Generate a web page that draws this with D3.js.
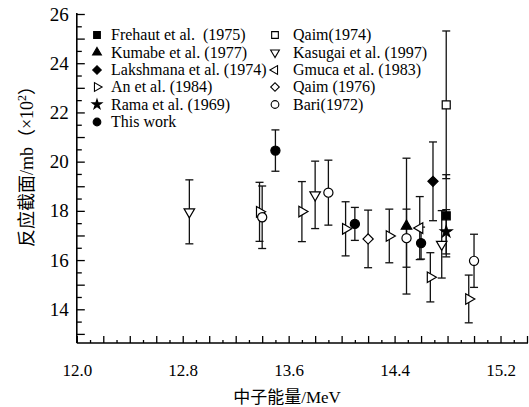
<!DOCTYPE html>
<html>
<head>
<meta charset="utf-8">
<script src="https://cdn.jsdelivr.net/npm/d3@7/dist/d3.min.js"></script>
<style>
  body { margin: 0; background: #fff; }
  text { font-family: "Liberation Serif", "Times New Roman", serif; fill: #000; }
  .cjk { font-family: "Liberation Serif", "Noto Sans CJK SC", serif; }
</style>
</head>
<body>
<svg id="sg"></svg>
<script>
// each point: [neutron energy MeV, cross section (x100 mb), error]
const frehaut = [[14.79, 17.8, 1.67]];
const kumabe = [[14.49, 17.38, 2.76]];
const lakshmana = [[14.69, 19.2, 1.6]];
const anEtAl = [[13.38, 17.96, 1.2], [13.7, 17.97, 1.22], [14.03, 17.27, 1.1], [14.36, 16.98, 1.09], [14.67, 15.3, 1.0], [14.96, 14.42, 0.97]];
const rama = [[14.79, 17.15, 0.9]];
const thisWork = [[13.5, 20.45, 0.84], [14.1, 17.47, 0.67], [14.6, 16.69, 0.65]];
const qaim1974 = [[14.79, 22.31, 3.0]];
const kasugai = [[12.85, 17.96, 1.3], [13.8, 18.65, 1.37], [14.756, 16.64, 1.37]];
const gmuca = [[14.59, 17.3, 1.28]];
const qaim1976 = [[14.2, 16.86, 1.17]];
const bari = [[13.4, 17.74, 1.27], [13.9, 18.74, 1.32], [14.49, 16.89, 1.18], [15.0, 15.97, 1.08]];

const xLabels = [12.0, 12.8, 13.6, 14.4, 15.2];
const yLabels = [14, 16, 18, 20, 22, 24, 26];

const series = [
  { name: "Frehaut et al.  (1975)", data: frehaut, shape: "square", fill: true, col: 0 },
  { name: "Kumabe et al. (1977)", data: kumabe, shape: "up", fill: true, col: 0 },
  { name: "Lakshmana et al. (1974)", data: lakshmana, shape: "diamond", fill: true, col: 0 },
  { name: "An et al. (1984)", data: anEtAl, shape: "right", fill: false, col: 0 },
  { name: "Rama et al. (1969)", data: rama, shape: "star", fill: true, col: 0 },
  { name: "This work", data: thisWork, shape: "circle", fill: true, col: 0 },
  { name: "Qaim(1974)", data: qaim1974, shape: "square", fill: false, col: 1 },
  { name: "Kasugai et al. (1997)", data: kasugai, shape: "down", fill: false, col: 1 },
  { name: "Gmuca et al. (1983)", data: gmuca, shape: "left", fill: false, col: 1 },
  { name: "Qaim (1976)", data: qaim1976, shape: "diamond", fill: false, col: 1 },
  { name: "Bari(1972)", data: bari, shape: "circle", fill: false, col: 1 }
];

let svgWidth = 529,
  svgHeight = 407;
let svg = d3.select("#sg").attr("width", svgWidth).attr("height", svgHeight);

let x = d3.scaleLinear().domain([12, 15.4]).range([76.8, 527]);
let y = d3.scaleLinear().domain([12.63, 26]).range([343, 14]);

function symbolPath(shape, legend) {
  let s = legend ? 0.7 : 1;
  if (shape === "square") return { d: d3.symbol(d3.symbolSquare, 64 * s)(), r: 0 };
  if (shape === "circle") return { d: d3.symbol(d3.symbolCircle, 66 * s)(), r: 0 };
  if (shape === "diamond") return { d: d3.symbol(d3.symbolSquare, 52 * s)(), r: 45 };
  if (shape === "star") return { d: d3.symbol(d3.symbolStar, 42 * s)(), r: 0 };
  let rot = { up: 0, right: 90, down: 180, left: 270 }[shape];
  return { d: d3.symbol(d3.symbolTriangle, 48 * s)(), r: rot };
}

// axes: left and bottom only, ticks inward
let xMinor = d3.range(12.1, 15.4, 0.2);
let xMajor = d3.range(12.0, 15.41, 0.2);
let yMinor = d3.range(13.5, 26, 1);
let yMajor = d3.range(13, 26.1, 1);

let gx = svg.append("g").attr("transform", "translate(0,343)");
gx.call(d3.axisBottom(x).tickValues(xMinor).tickSize(-3).tickFormat(""));
gx.append("g").call(
  d3.axisBottom(x)
    .tickValues(xMajor)
    .tickSize(-7)
    .tickPadding(21)
    .tickFormat(d => (xLabels.some(v => Math.abs(v - d) < 1e-6) ? d.toFixed(1) : ""))
);
gx.selectAll(".domain").remove();
gx.append("line").attr("x1", 76.8).attr("x2", 528).attr("stroke", "#000").attr("stroke-width", 1.6);

let gy = svg.append("g").attr("transform", "translate(76.8,0)");
gy.call(d3.axisLeft(y).tickValues(yMinor).tickSize(-5).tickFormat(""));
gy.append("g").call(
  d3.axisLeft(y)
    .tickValues(yMajor)
    .tickSize(-8)
    .tickPadding(8)
    .tickFormat(d => (yLabels.includes(d) ? d : ""))
);
gy.selectAll(".domain").remove();
gy.append("line").attr("y1", 13).attr("y2", 343).attr("stroke", "#000").attr("stroke-width", 1.6);

svg.selectAll(".tick line").attr("stroke", "#000").attr("stroke-width", 1.3);
gx.selectAll(".tick text").style("font-size", "17px").attr("font-family", "Liberation Serif");
gy.selectAll(".tick text").style("font-size", "19px").attr("font-family", "Liberation Serif");

// axis titles
svg.append("text")
  .attr("class", "cjk")
  .attr("x", 287)
  .attr("y", 403)
  .attr("text-anchor", "middle")
  .style("font-size", "17px")
  .text("中子能量/MeV");

let yt = svg.append("text")
  .attr("class", "cjk")
  .attr("transform", "translate(33,162) rotate(-90)")
  .attr("text-anchor", "middle")
  .style("font-size", "18px");
yt.append("tspan").text("反应截面/mb（×10");
yt.append("tspan").attr("dy", -7).style("font-size", "12px").text("2");
yt.append("tspan").attr("dy", 7).text("）");

// error bars
let pts = [];
series.forEach(s => s.data.forEach(p => pts.push({ s: s, e: p[0], v: p[1], err: p[2] })));

let bars = svg.append("g").attr("stroke", "#111").attr("stroke-width", 1.3);
pts.forEach(p => {
  let px = x(p.e), y0 = y(p.v + p.err), y1 = y(p.v - p.err);
  bars.append("line").attr("x1", px).attr("x2", px).attr("y1", y0).attr("y2", y1);
  bars.append("line").attr("x1", px - 4).attr("x2", px + 4).attr("y1", y0).attr("y2", y0);
  bars.append("line").attr("x1", px - 4).attr("x2", px + 4).attr("y1", y1).attr("y2", y1);
});

// markers
pts.forEach(p => {
  let sp = symbolPath(p.s.shape, false);
  svg.append("path")
    .attr("d", sp.d)
    .attr("transform", "translate(" + x(p.e) + "," + y(p.v) + ") rotate(" + sp.r + ")")
    .attr("fill", p.s.fill ? "#000" : "#fff")
    .attr("stroke", "#000")
    .attr("stroke-width", 1.2);
});

// legend
let rowY = [35, 52.5, 70, 87, 104.5, 122];
let colX = [97, 275];
let textX = [111, 293];
let counter = [0, 0];
series.forEach(s => {
  let i = counter[s.col]++;
  let sp = symbolPath(s.shape, true);
  svg.append("path")
    .attr("d", sp.d)
    .attr("transform", "translate(" + colX[s.col] + "," + rowY[i] + ") rotate(" + sp.r + ")")
    .attr("fill", s.fill ? "#000" : "#fff")
    .attr("stroke", "#000")
    .attr("stroke-width", 1.1);
  svg.append("text")
    .attr("x", textX[s.col])
    .attr("y", rowY[i])
    .attr("dy", "0.33em")
    .style("font-size", "16px")
    .attr("xml:space", "preserve")
    .text(s.name);
});
</script>
</body>
</html>
